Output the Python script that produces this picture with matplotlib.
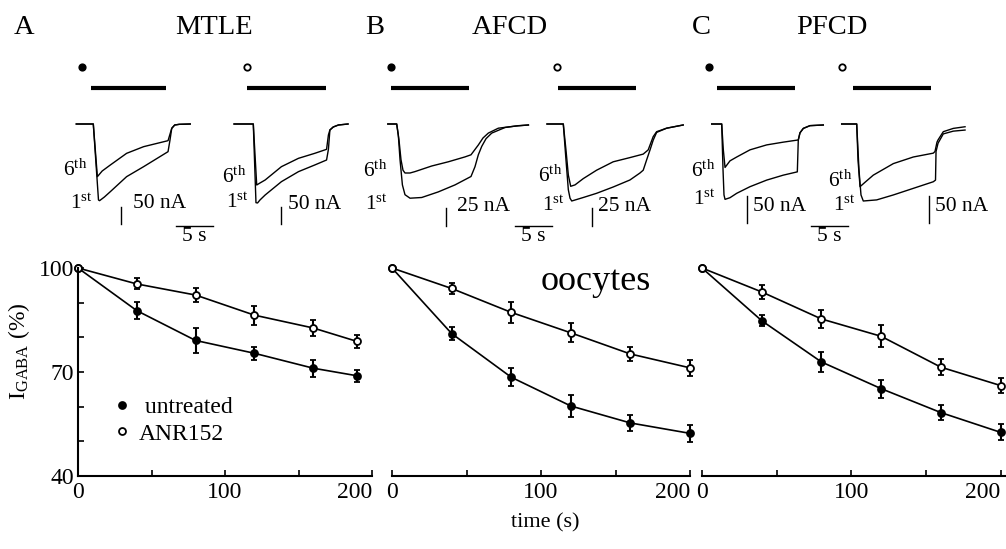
import matplotlib.pyplot as plt
from matplotlib.lines import Line2D

plt.rcParams['font.family'] = ['Liberation Serif', 'DejaVu Serif']
plt.rcParams['mathtext.fontset'] = 'custom'
plt.rcParams['mathtext.rm'] = 'Liberation Serif'
plt.rcParams['mathtext.it'] = 'Liberation Serif:italic'

# ---- summary data (I_GABA % of first response) ----
time_s = [0, 40, 80, 120, 160, 200]
time_A = [0, 40, 80, 120, 160, 190]

A_untreated = [100, 87.7, 79.1, 75.4, 71.1, 68.9]
A_untreated_err = [0, 2.5, 3.5, 1.8, 2.4, 1.7]
A_anr = [100, 95.4, 92.2, 86.4, 82.7, 78.8]
A_anr_err = [0, 1.6, 1.9, 2.7, 2.3, 2.0]

B_untreated = [100, 81.1, 68.5, 60.2, 55.3, 52.3]
B_untreated_err = [0, 1.8, 2.6, 3.2, 2.4, 2.4]
B_anr = [100, 94.1, 87.2, 81.3, 75.2, 71.2]
B_anr_err = [0, 1.5, 3.1, 2.7, 2.0, 2.3]

C_untreated = [100, 84.8, 72.9, 65.2, 58.3, 52.6]
C_untreated_err = [0, 1.5, 3.0, 2.6, 2.1, 2.3]
C_anr = [100, 93.1, 85.3, 80.3, 71.4, 66.1]
C_anr_err = [0, 1.9, 2.5, 3.2, 2.4, 2.3]

# ---- example current traces (time in s, current in nA), 1st and 6th ----
A1_t6 = [-2.3, 0, 0.55, 1.2, 2.3, 4.5, 6.8, 9.0, 10.1, 10.6, 11.0, 11.6, 13.1]
A1_i6 = [0, 0, -158, -141, -123, -88, -68, -56, -50, -13, -3, -1, 0]
A1_t1 = [-2.3, 0, 0.7, 0.85, 1.5, 2.3, 4.5, 6.8, 9.0, 10.1, 10.35, 10.6, 11.0, 11.6, 13.1]
A1_i1 = [0, 0, -228, -230, -219, -203, -158, -128, -98, -83, -50, -13, -3, -1, 0]

A2_t6 = [-2.6, 0, 0.46, 0.9, 1.6, 3.8, 6.1, 8.3, 9.9, 10.15, 10.35, 10.8, 11.5, 12.8]
A2_i6 = [0, 0, -183, -177, -168, -128, -103, -88, -76, -33, -18, -9, -3, 0]
A2_t1 = [-2.6, 0, 0.36, 0.57, 0.9, 1.6, 3.8, 6.1, 8.3, 9.9, 10.15, 10.35, 10.8, 11.5, 12.8]
A2_i1 = [0, 0, -236, -237, -228, -213, -173, -143, -123, -108, -76, -18, -9, -3, 0]

B1_t6 = [-1.2, 0, 0.31, 0.58, 0.85, 1.12, 1.8, 2.47, 4.73, 6.97, 9.23, 10.04, 11.03,
         11.66, 12.38, 13.73, 16.0, 17.8]
B1_i6 = [0, 0, -23, -51, -66, -70, -70, -68, -60, -54, -47, -44, -30, -20, -13, -6, -3, -1.4]
B1_t1 = [-1.2, 0, 0.22, 0.45, 0.77, 1.12, 1.8, 3.38, 5.62, 7.88, 10.04, 10.58, 11.03,
         11.49, 12.07, 12.84, 14.64, 16.43, 17.8]
B1_i1 = [0, 0, -16, -51, -87, -101, -106, -105, -97, -87, -75, -61, -44, -32, -21, -13, -5,
         -2.4, -1.4]

B2_t6 = [-2.2, 0, 0.36, 0.68, 1.0, 1.58, 2.7, 4.5, 6.74, 9.0, 10.8, 11.47, 12.15, 12.61,
         13.96, 16.2]
B2_i6 = [0, 0, -37, -73, -89, -87, -78, -66, -54, -48, -43, -37, -18, -11, -6, -1.4]
B2_t1 = [-2.2, 0, 0.36, 0.68, 0.91, 1.14, 2.7, 4.5, 6.74, 9.0, 10.36, 10.8, 11.27, 11.72,
         12.15, 12.61, 13.96, 16.2]
B2_i1 = [0, 0, -51, -94, -106, -110, -105, -99, -90, -80, -70, -66, -51, -37, -23, -12, -6, -1.4]

C1_t6 = [-1.35, 0, 0.22, 0.45, 1.12, 2.03, 3.82, 6.08, 8.32, 10.35, 10.58, 11.03, 11.93, 13.73]
C1_i6 = [0, 0, -47, -79, -67, -60, -47, -38, -33, -29, -16, -8, -3, -1.8]
C1_t1 = [-1.35, 0, 0.18, 0.31, 0.45, 1.12, 2.03, 3.82, 6.08, 8.32, 10.22, 10.35, 10.58,
         11.03, 11.93, 13.73]
C1_i1 = [0, 0, -84, -129, -137, -134, -126, -114, -102, -93, -87, -29, -16, -8, -3, -1.8]

C2_t6 = [-2.03, 0, 0.18, 0.45, 1.12, 2.24, 4.95, 7.65, 10.35, 10.58, 10.85, 10.99, 11.7,
         13.05, 14.64]
C2_i6 = [0, 0, -66, -114, -106, -93, -72, -60, -53, -50, -33, -29, -14, -8, -5]
C2_t1 = [-2.03, 0, 0.31, 0.58, 0.89, 2.7, 4.95, 7.65, 10.35, 10.65, 10.72, 10.99, 11.7,
         13.05, 14.64]
C2_i1 = [0, 0, -84, -129, -140, -138, -129, -117, -105, -102, -50, -35, -18, -13, -11]

# GABA application (s)
A1_app, A2_app = [-0.35, 9.8], [-0.9, 9.8]
B1_app, B2_app = [-0.77, 9.81], [-0.76, 9.82]
C1_app, C2_app = [-0.68, 9.91], [-0.54, 10.0]

W, H = 1006, 549
PX_S = 7.4  # pixels per second in the trace insets
fig = plt.figure(figsize=(W / 100, H / 100), dpi=100)


def inset(onset_px, k):
    left, right, top, bot = onset_px - 35, onset_px + 135, 50, 245
    ax = fig.add_axes([left / W, 1 - bot / H, (right - left) / W, (bot - top) / H])
    ax.set_xlim((left - onset_px) / PX_S, (right - onset_px) / PX_S)
    ax.set_ylim(-(bot - 124) / k, (124 - top) / k)
    ax.axis('off')
    return ax


def traces(ax, k, t1, i1, t6, i6, app, filled, dot_t, lab6, lab1, bar_t, bar_lo, bar_nA, bar_txt):
    ax.plot(t1, i1, color='black', lw=1.0, clip_on=False)
    ax.plot(t6, i6, color='black', lw=1.0, clip_on=False)
    ax.plot(app, [35.7 / k] * 2, color='black', lw=3.0, solid_capstyle='butt', clip_on=False)
    ax.plot(dot_t, 57.3 / k, 'o', ms=4.6, mec='black', mew=1.3,
            mfc='black' if filled else 'white', clip_on=False)
    ax.text(lab6[0], lab6[1], r'6$^{\mathrm{th}}$', fontsize=15.5, ha='center', va='center')
    ax.text(lab1[0], lab1[1], r'1$^{\mathrm{st}}$', fontsize=15.5, ha='center', va='center')
    ax.plot([bar_t, bar_t], [bar_lo, bar_lo + bar_nA], color='black', lw=1.0, clip_on=False)
    ax.text(bar_txt[0], bar_txt[1], f'{bar_nA} nA', fontsize=15.5, ha='left', va='center')


def time_bar(ax, t0, i0, k):
    ax.plot([t0, t0 + 5], [i0, i0], color='black', lw=1.0, clip_on=False)
    ax.text(t0 + 2.5, i0 - 10.5 / k, '5 s', fontsize=15.5, ha='center', va='center')


k = 1 / 3
ax = inset(93.3, k)
traces(ax, k, A1_t1, A1_i1, A1_t6, A1_i6, A1_app, True, -1.57,
       (-2.47, -138), (-1.66, -240), 3.76, -300, 50, (5.3, -240))
time_bar(ax, 11.2, -305, k)
ax = inset(253.3, k)
traces(ax, k, A2_t1, A2_i1, A2_t6, A2_i6, A2_app, False, -0.9,
       (-2.6, -160), (-2.2, -237), 3.7, -300, 50, (4.65, -241))

k = 0.7
ax = inset(396.7, k)
traces(ax, k, B1_t1, B1_i1, B1_t6, B1_i6, B1_app, True, -0.77,
       (-2.93, -67), (-2.8, -116), 6.62, -145, 25, (8.1, -118))
time_bar(ax, 15.99, -145.3, k)
ax = inset(563.3, k)
traces(ax, k, B2_t1, B2_i1, B2_t6, B2_i6, B2_app, False, -0.89,
       (-1.8, -74), (-1.39, -117), 3.84, -145, 25, (4.69, -118))

k = 0.55
ax = inset(721.7, k)
traces(ax, k, C1_t1, C1_i1, C1_t6, C1_i6, C1_app, True, -1.68,
       (-2.53, -85), (-2.39, -138), 3.46, -180, 50, (4.19, -150))
time_bar(ax, 12.03, -185, k)
ax = inset(856.7, k)
traces(ax, k, C2_t1, C2_i1, C2_t6, C2_i6, C2_app, False, -2.03,
       (-2.25, -104), (-1.72, -149), 9.81, -180, 50, (10.58, -150))


def summary(left_px, width_px, xmax, x, unt, unt_e, anr, anr_e, show_y):
    ax = fig.add_axes([left_px / W, 73 / H, width_px / W, 208 / H])
    for y, e, fc in [(unt, unt_e, 'black'), (anr, anr_e, 'white')]:
        cont = ax.errorbar(x, y, yerr=e, fmt='-o', color='black', mfc=fc, mec='black',
                           ms=5, mew=1.3, lw=1.2, elinewidth=1.5, capsize=2.2, capthick=1.5)
        for art in cont.get_children():
            art.set_clip_on(False)
    ax.set_xlim(0, xmax)
    ax.set_ylim(40, 100)
    for s in ['top', 'right']:
        ax.spines[s].set_visible(False)
    ax.spines['bottom'].set_linewidth(1.5)
    ax.spines['left'].set_linewidth(1.5)
    ax.set_xticks([0, 100, 200])
    ax.set_xticks([50, 150], minor=True)
    ax.tick_params(axis='x', which='both', direction='in', length=4, width=1.2,
                   labelsize=17, pad=4)
    # the last label sits left of its tick, as in the reference
    ax.get_xticklabels()[-1].set_horizontalalignment('right')
    if show_y:
        ax.set_yticks([40, 70, 100])
        ax.set_yticks([50, 60, 80, 90], minor=True)
        ax.tick_params(axis='y', which='both', direction='in', length=4, width=1.2,
                       labelsize=17, pad=3)
    else:
        ax.spines['left'].set_visible(False)
        ax.set_yticks([])
    ax.patch.set_visible(False)
    return ax


axA = summary(78, 294, 200, time_A, A_untreated, A_untreated_err, A_anr, A_anr_err, True)
axB = summary(392, 298, 200, time_s, B_untreated, B_untreated_err, B_anr, B_anr_err, False)
axC = summary(702, 303, 203, time_s, C_untreated, C_untreated_err, C_anr, C_anr_err, False)

axA.set_ylabel(r'I$_{\mathrm{GABA}}$ (%)', fontsize=17)
axA.yaxis.set_label_coords(-0.155, 0.6)

handles = [Line2D([], [], ls='none', marker='o', ms=5, mfc='black', mec='black', mew=1.3),
           Line2D([], [], ls='none', marker='o', ms=5, mfc='white', mec='black', mew=1.3)]
axA.legend(handles, [' untreated', 'ANR152'], loc='upper left', bbox_to_anchor=(0.126, 0.38),
           frameon=False, fontsize=17, handlelength=0.6, handletextpad=0.4,
           borderpad=0, borderaxespad=0, labelspacing=0.2)

fig.text(596 / W, 1 - 282 / H, 'oocytes', fontsize=26, ha='center', va='center')
fig.text(545 / W, 1 - 523 / H, 'time (s)', fontsize=16, ha='center', va='center')

for txt, xp in [('A', 24), ('MTLE', 214), ('B', 375), ('AFCD', 510), ('C', 701), ('PFCD', 832)]:
    fig.text(xp / W, 1 - 28 / H, txt, fontsize=20.5, ha='center', va='center')

fig.savefig('out.png', dpi=100)
